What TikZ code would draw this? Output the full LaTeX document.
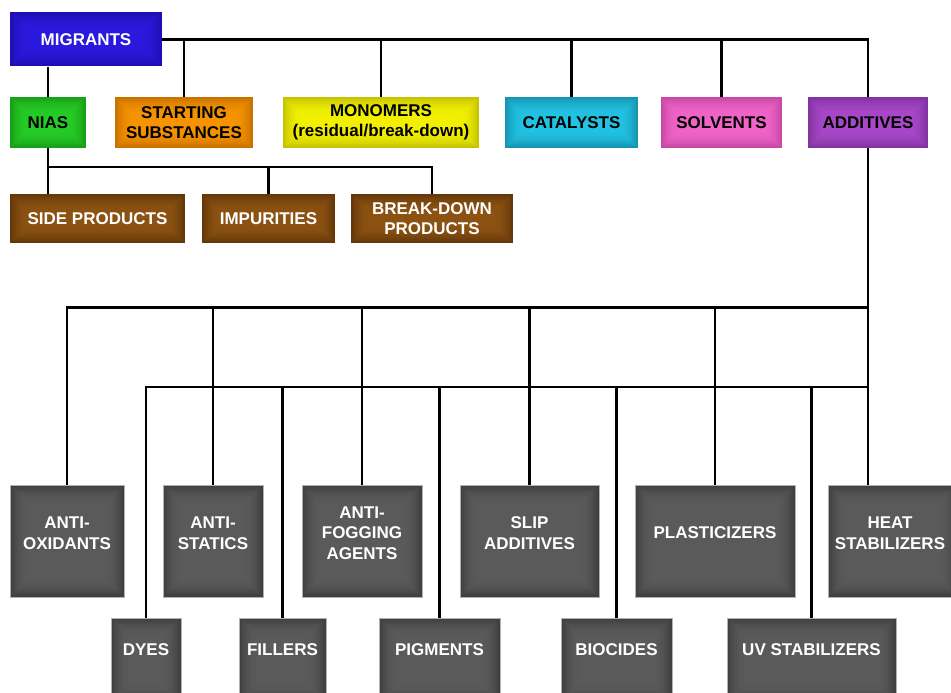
\documentclass[tikz,border=0pt]{standalone}
\usepackage{fontspec}
\setmainfont{Liberation Sans}
\definecolor{cblue}{HTML}{2A18DC}\definecolor{cblueD}{HTML}{12088A}
\definecolor{cgreen}{HTML}{26CC26}\definecolor{cgreenD}{HTML}{0C760C}
\definecolor{corange}{HTML}{F59400}\definecolor{corangeD}{HTML}{A05000}
\definecolor{cyellow}{HTML}{F2F000}\definecolor{cyellowD}{HTML}{9C9A00}
\definecolor{ccyan}{HTML}{22C2E2}\definecolor{ccyanD}{HTML}{0A6A82}
\definecolor{cpink}{HTML}{F064C8}\definecolor{cpinkD}{HTML}{A03082}
\definecolor{cpurple}{HTML}{A848C8}\definecolor{cpurpleD}{HTML}{5E1E7E}
\definecolor{cbrown}{HTML}{8C5212}\definecolor{cbrownD}{HTML}{3E2004}
\definecolor{cgray}{HTML}{5A5A5A}\definecolor{cgrayD}{HTML}{262626}
\tikzset{
  conn/.style={line width=2.8pt, black},
  glow/.style={path picture={
      \foreach \i [evaluate=\i as \d using 1+2*\i,
                   evaluate=\i as \o using 0.5*(1-\i/9)*(1-\i/9)] in {0,...,8}{
        \draw[#1, line width=2pt, opacity=\o]
          ([xshift=\d pt,yshift=-\d pt]path picture bounding box.north west) rectangle
          ([xshift=-\d pt,yshift=\d pt]path picture bounding box.south east);
      }}},
  box/.style={rectangle, inner sep=0pt, align=center,
    font=\bfseries\fontsize{17}{20.5}\selectfont},
  cbox/.style 2 args={box, fill=#1, glow=#2},
  gbox/.style={rectangle, inner sep=0pt, fill=cgray, glow=cgrayD, draw=gray!60, line width=0.8pt},
  gtext/.style={align=center, text=white, inner sep=0pt,
    font=\bfseries\fontsize{17}{20.5}\selectfont},
}
\begin{document}
\begin{tikzpicture}[x=1pt,y=-1pt]
\useasboundingbox (0,0) rectangle (951,693);
% top level
\node[cbox={cblue}{cblueD}, text=white, minimum width=152pt, minimum height=54pt] (migrants) at (86,39.5) {MIGRANTS};
\node[cbox={cgreen}{cgreenD}, minimum width=76pt, minimum height=51pt] (nias) at (48,122.5) {NIAS};
\node[cbox={corange}{corangeD}, minimum width=138pt, minimum height=51pt] (starting) at (184,122.5) {STARTING\\SUBSTANCES};
\node[cbox={cyellow}{cyellowD}, minimum width=196pt, minimum height=51pt] (monomers) at (381,122.5) {MONOMERS\\(residual/break-down)};
\node[cbox={ccyan}{ccyanD}, minimum width=133pt, minimum height=51pt] (catalysts) at (571.5,122.5) {CATALYSTS};
\node[cbox={cpink}{cpinkD}, minimum width=121pt, minimum height=51pt] (solvents) at (721.5,122.5) {SOLVENTS};
\node[cbox={cpurple}{cpurpleD}, minimum width=120pt, minimum height=51pt] (additives) at (868,122.5) {ADDITIVES};
% NIAS children
\node[cbox={cbrown}{cbrownD}, text=white, minimum width=175pt, minimum height=49pt] (side) at (97.5,218.5) {SIDE PRODUCTS};
\node[cbox={cbrown}{cbrownD}, text=white, minimum width=133pt, minimum height=49pt] (impur) at (268.5,218.5) {IMPURITIES};
\node[cbox={cbrown}{cbrownD}, text=white, minimum width=162pt, minimum height=49pt] (breakdown) at (432,218.5) {BREAK-DOWN\\PRODUCTS};
% additives upper row
\node[gbox, minimum width=114pt, minimum height=112pt] (antiox) at (67,541) {};
\node[gbox, minimum width=100pt, minimum height=112pt] (antistat) at (213,541) {};
\node[gbox, minimum width=120pt, minimum height=112pt] (antifog) at (362,541) {};
\node[gbox, minimum width=139pt, minimum height=112pt] (slip) at (529.5,541) {};
\node[gbox, minimum width=160pt, minimum height=112pt] (plast) at (715,541) {};
\node[gbox, minimum width=130pt, minimum height=112pt] (heat) at (893,541) {};
\node[gtext] (antiox-t) at (67,533) {ANTI-\\OXIDANTS};
\node[gtext] (antistat-t) at (213,533) {ANTI-\\STATICS};
\node[gtext] (antifog-t) at (362,533) {ANTI-\\FOGGING\\AGENTS};
\node[gtext] (slip-t) at (529.5,533) {SLIP\\ADDITIVES};
\node[gtext] (plast-t) at (715,533) {PLASTICIZERS};
\node[gtext] (heat-t) at (890,533) {HEAT\\STABILIZERS};
% additives lower row
\node[gbox, minimum width=70pt, minimum height=84pt] (dyes) at (146,660) {};
\node[gbox, minimum width=87pt, minimum height=84pt] (fillers) at (282.5,660) {};
\node[gbox, minimum width=121pt, minimum height=84pt] (pigments) at (439.5,660) {};
\node[gbox, minimum width=111pt, minimum height=84pt] (biocides) at (616.5,660) {};
\node[gbox, minimum width=169pt, minimum height=84pt] (uv) at (811.5,660) {};
\node[gtext] (dyes-t) at (146,650) {DYES};
\node[gtext] (fillers-t) at (282.5,650) {FILLERS};
\node[gtext] (pigments-t) at (439.5,650) {PIGMENTS};
\node[gtext] (biocides-t) at (616.5,650) {BIOCIDES};
\node[gtext] (uv-t) at (811.5,650) {UV STABILIZERS};
% bus coordinates
\coordinate (h1) at (0,167);
\coordinate (h2) at (0,307.5);
\coordinate (h3) at (0,387);
\coordinate (vadd) at (868,0);
% connectors
\draw[conn] (migrants.east) -| (additives.north);
\draw[conn] (starting.north) -- (starting.north |- migrants.east);
\draw[conn] (monomers.north) -- (monomers.north |- migrants.east);
\draw[conn] (catalysts.north) -- (catalysts.north |- migrants.east);
\draw[conn] (solvents.north) -- (solvents.north |- migrants.east);
\draw[conn] (migrants.south -| nias.north) -- (nias.north);
\draw[conn] (nias.south) -- (nias.south |- side.north);
\draw[conn] (nias.south |- h1) -| (breakdown.north);
\draw[conn] (impur.north) -- (impur.north |- h1);
\draw[conn] (additives.south) -- (vadd |- antiox.north);
\draw[conn] (vadd |- h2) -| (antiox.north);
\draw[conn] (vadd |- h3) -| (dyes.north);
\draw[conn] (antistat.north) -- (antistat.north |- h2);
\draw[conn] (antifog.north) -- (antifog.north |- h2);
\draw[conn] (slip.north) -- (slip.north |- h2);
\draw[conn] (plast.north) -- (plast.north |- h2);
\draw[conn] (fillers.north) -- (fillers.north |- h3);
\draw[conn] (pigments.north) -- (pigments.north |- h3);
\draw[conn] (biocides.north) -- (biocides.north |- h3);
\draw[conn] (uv.north) -- (uv.north |- h3);
\end{tikzpicture}
\end{document}
